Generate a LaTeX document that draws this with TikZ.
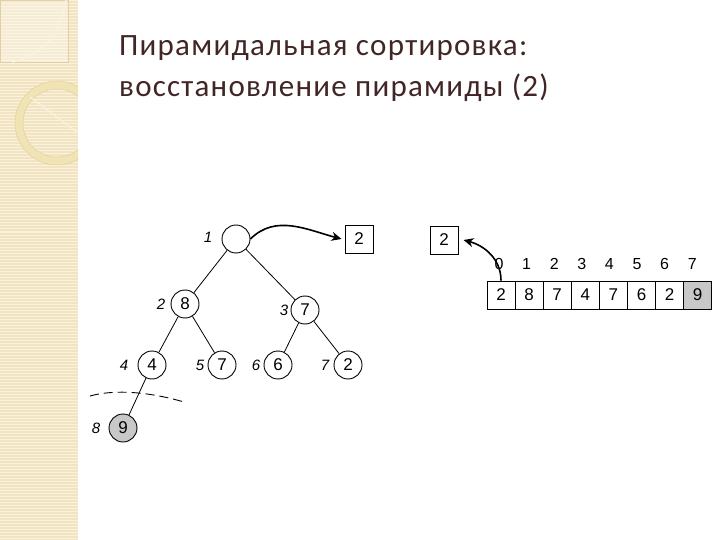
\documentclass[tikz,border=0pt]{standalone}
\usepackage{fontspec}
\setmainfont{Carlito}
\newfontfamily\arialfont{Liberation Sans}
\usetikzlibrary{arrows.meta}

\definecolor{stripbg}{RGB}{242,228,192}
\definecolor{stripline}{RGB}{249,242,222}
\definecolor{ringcol}{RGB}{240,228,180}
\definecolor{ringedge}{RGB}{226,208,160}
\definecolor{titlecol}{RGB}{66,38,38}
\definecolor{cellgray}{RGB}{200,200,200}

\tikzset{
  heapnode/.style={circle, draw, line width=0.9pt, minimum size=28pt, inner sep=0pt,
    font=\arialfont\fontsize{17}{17}\selectfont},
  posnum/.style={font=\arialfont\itshape\fontsize{15}{15}\selectfont},
  cellbox/.style={draw, line width=0.9pt, minimum width=28.1pt, minimum height=28pt, inner sep=0pt,
    font=\arialfont\fontsize{17}{17}\selectfont},
  idxnum/.style={font=\arialfont\fontsize{16}{16}\selectfont},
  titleline/.style={anchor=base west, text=titlecol, inner sep=0pt,
    font=\addfontfeatures{LetterSpace=4}\fontsize{31}{31}\selectfont},
  movearrow/.style={line width=1.6pt, -{Stealth[length=10pt,width=9pt]}}
}

\begin{document}
\begin{tikzpicture}[x=1pt, y=-1pt]
			%%%%% START %%%%%
			\useasboundingbox[fill=white] (0,0) rectangle (720,540);
			
			% left strip
			\begin{scope}
				\clip (0,0) rectangle (78,540);
				\fill[stripbg] (0,0) rectangle (78,540);
				\foreach \y in {1,4,...,540}
					\draw[stripline, line width=1pt] (0,\y) -- (78,\y);
				\fill[white, opacity=0.3] (0,0) rectangle (68,62);
				\draw[ringedge, line width=0.4pt] (0,0) rectangle (68,62);
				\draw[stripline, line width=1.5pt] (66,0) .. controls (60,40) and (35,58) .. (12,62);
				\draw[ringcol, line width=8pt] (57,123) circle (38);
				\draw[ringedge, line width=0.5pt] (57,123) circle (42);
				\draw[ringedge, line width=0.5pt] (57,123) circle (34);
				\draw[stripline, line width=1.2pt] (30,97) -- (78,133);
			\end{scope}
			
			% title
			\node[titleline] (title1) at (119,56) {Пирамидальная сортировка:};
			\node[titleline] (title2) at (119,97) {восстановление пирамиды (2)};
			
			% heap
			\node[heapnode] (n1) at (236,239) {};
			\node[heapnode] (n2) at (185,304) {8};
			\node[heapnode] (n3) at (305,310) {7};
			\node[heapnode] (n4) at (152,365) {4};
			\node[heapnode] (n5) at (222,365) {7};
			\node[heapnode] (n6) at (278,365) {6};
			\node[heapnode] (n7) at (348,365) {2};
			\node[heapnode, fill=cellgray] (n8) at (123,428) {9};
			
			\node[posnum] (p1) at (208,237) {1};
			\node[posnum] (p2) at (161,304) {2};
			\node[posnum] (p3) at (284,310) {3};
			\node[posnum] (p4) at (124,365) {4};
			\node[posnum] (p5) at (200,365) {5};
			\node[posnum] (p6) at (256,365) {6};
			\node[posnum] (p7) at (325,365) {7};
			\node[posnum] (p8) at (96,428) {8};
			
			\draw[line width=0.8pt] (n1) -- (n2);
			\draw[line width=0.8pt] (n1) -- (n3);
			\draw[line width=0.8pt] (n2) -- (n4);
			\draw[line width=0.8pt] (n2) -- (n5);
			\draw[line width=0.8pt] (n3) -- (n6);
			\draw[line width=0.8pt] (n3) -- (n7);
			\draw[line width=0.8pt] (n4) -- (n8);
			
			\draw[line width=0.9pt, dash pattern=on 9pt off 5pt] (90,396) .. controls (115,389) and (150,392) .. (184,402);
			
			\node[cellbox] (out1) at (359,239) {2};
			\draw[movearrow] (n1.east) to[out=45, in=165] ([xshift=-3pt]out1.west);
			
			% array
			\node[cellbox] (out2) at (444,240) {2};
			\foreach \v/\c [count=\i from 0] in {2/white,8/white,7/white,4/white,7/white,6/white,2/white,9/cellgray} {
				\node[cellbox, fill=\c] (cell\i) at (501+28.1*\i,295) {\v};
				\node[idxnum] (idx\i) at (499+27.6*\i,264) {\i};
			}
			\draw[movearrow] (cell0.north) to[out=90, in=-15] ([xshift=5pt]out2.east);
			
			%%%%% END %%%%%
\end{tikzpicture}
\end{document}
